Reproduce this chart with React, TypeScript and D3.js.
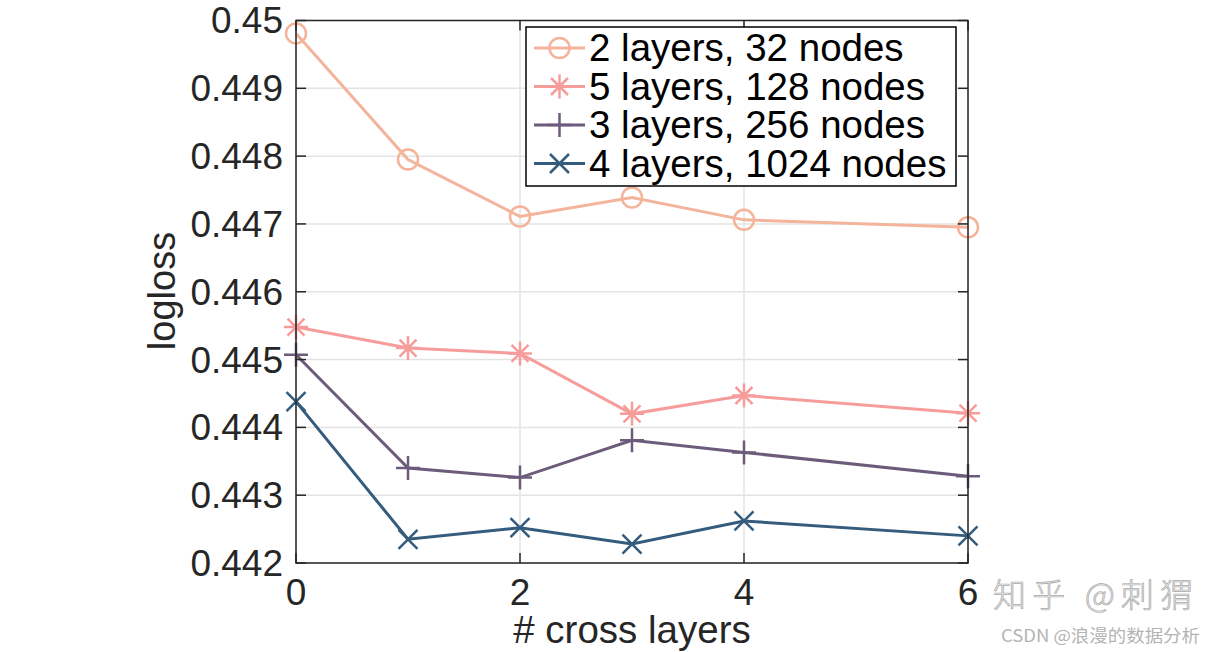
import React from 'react';
import * as d3 from 'd3';

// chart data
const crossLayers = [0, 1, 2, 3, 4, 6];
const seriesNames = [
  '2 layers, 32 nodes',
  '5 layers, 128 nodes',
  '3 layers, 256 nodes',
  '4 layers, 1024 nodes',
];
const loss2x32 = [0.44981, 0.44795, 0.44711, 0.44739, 0.44706, 0.44695];
const loss5x128 = [0.44548, 0.44517, 0.44509, 0.4442, 0.44447, 0.44421];
const loss3x256 = [0.44507, 0.4434, 0.44326, 0.44381, 0.44363, 0.44328];
const loss4x1024 = [0.44438, 0.44235, 0.44252, 0.44228, 0.44262, 0.4424];
const yTicks = [0.442, 0.443, 0.444, 0.445, 0.446, 0.447, 0.448, 0.449, 0.45];
const xTicks = [0, 2, 4, 6];

const seriesValues = [loss2x32, loss5x128, loss3x256, loss4x1024];
const colors = ['#F4B49B', '#F69D9C', '#6C5B7B', '#355C7D'];
const markers = ['circle', 'star', 'plus', 'cross'];

const FONT = '"Liberation Sans", Arial, Helvetica, sans-serif';
const AXIS = '#262626';

const Marker: React.FC<{ type: string; x: number; y: number; color: string }> = ({ type, x, y, color }) => {
  const common = { stroke: color, strokeWidth: 2.5, fill: 'none' };
  if (type === 'circle') return <circle cx={x} cy={y} r={10} {...common} />;
  if (type === 'plus') {
    const s = 12;
    return <path d={`M${x - s},${y}H${x + s}M${x},${y - s}V${y + s}`} {...common} />;
  }
  if (type === 'cross') {
    const c = 9.5;
    return <path d={`M${x - c},${y - c}L${x + c},${y + c}M${x - c},${y + c}L${x + c},${y - c}`} {...common} />;
  }
  // star: plus + cross
  const s = 12;
  const c = 8.5;
  return (
    <path
      d={`M${x - s},${y}H${x + s}M${x},${y - s}V${y + s}M${x - c},${y - c}L${x + c},${y + c}M${x - c},${y + c}L${x + c},${y - c}`}
      {...common}
    />
  );
};

const App: React.FC = () => {
  const width = 1216;
  const height = 652;
  const left = 296;
  const right = 968;
  const top = 20.5;
  const bottom = 563;

  const x = d3.scaleLinear().domain([0, 6]).range([left, right]);
  const y = d3.scaleLinear().domain([0.442, 0.45]).range([bottom, top]);

  const line = d3
    .line<number>()
    .x((_, i) => x(crossLayers[i]))
    .y((d) => y(d));

  const tickLen = 10;
  const legend = { x0: 526, x1: 956, y0: 27, y1: 186, row0: 48, step: 38.5 };

  return (
    <svg
      width={width}
      height={height}
      style={{ position: 'absolute', left: 0, top: 0, background: '#fff' }}
      fontFamily={FONT}
    >
      <rect x={0} y={0} width={width} height={height} fill="#fff" />

      {/* grid */}
      <g stroke="#E3E3E3" strokeWidth={1.5}>
        {yTicks.map((t) => (
          <line key={'gy' + t} x1={left} x2={right} y1={y(t)} y2={y(t)} />
        ))}
        {xTicks.map((t) => (
          <line key={'gx' + t} x1={x(t)} x2={x(t)} y1={top} y2={bottom} />
        ))}
      </g>

      {/* series */}
      {seriesValues.map((vals, si) => (
        <g key={seriesNames[si]}>
          <path d={line(vals) || ''} fill="none" stroke={colors[si]} strokeWidth={3} />
          {vals.map((v, i) => (
            <Marker key={i} type={markers[si]} x={x(crossLayers[i])} y={y(v)} color={colors[si]} />
          ))}
        </g>
      ))}

      {/* axes box and inward ticks */}
      <g stroke={AXIS} strokeWidth={1.5} fill="none">
        <rect x={left} y={top} width={right - left} height={bottom - top} />
        {yTicks.map((t) => (
          <g key={'ty' + t}>
            <line x1={left} x2={left + tickLen} y1={y(t)} y2={y(t)} />
            <line x1={right} x2={right - tickLen} y1={y(t)} y2={y(t)} />
          </g>
        ))}
        {xTicks.map((t) => (
          <g key={'tx' + t}>
            <line x1={x(t)} x2={x(t)} y1={bottom} y2={bottom - tickLen} />
            <line x1={x(t)} x2={x(t)} y1={top} y2={top + tickLen} />
          </g>
        ))}
      </g>

      {/* tick labels */}
      <g fill={AXIS} fontSize={37}>
        {yTicks.map((t) => (
          <text key={'ly' + t} x={left - 13} y={y(t)} dy="0.35em" textAnchor="end">
            {d3.format('')(+t.toFixed(3))}
          </text>
        ))}
        {xTicks.map((t) => (
          <text key={'lx' + t} x={x(t)} y={605} textAnchor="middle">
            {t}
          </text>
        ))}
        <text x={(left + right) / 2} y={643} textAnchor="middle" fontSize={38.5}>
          # cross layers
        </text>
        <text transform={`translate(175,291) rotate(-90)`} textAnchor="middle" fontSize={38}>
          logloss
        </text>
      </g>

      {/* legend */}
      <g>
        <rect
          x={legend.x0}
          y={legend.y0}
          width={legend.x1 - legend.x0}
          height={legend.y1 - legend.y0}
          fill="#fff"
          stroke="#000"
          strokeWidth={1.5}
        />
        {seriesNames.map((name, i) => {
          const ry = legend.row0 + i * legend.step;
          return (
            <g key={'lg' + name}>
              <line x1={534} x2={585} y1={ry} y2={ry} stroke={colors[i]} strokeWidth={3} />
              <Marker type={markers[i]} x={559.5} y={ry} color={colors[i]} />
              <text x={589} y={ry} dy="0.35em" fontSize={38.5} fill="#000">
                {name}
              </text>
            </g>
          );
        })}
      </g>

      {/* watermark */}
      <text x={993} y={607} fontSize={33} fill="#e6e6e6" stroke="#aaaaaa" strokeWidth={0.7}
        fontFamily='"Noto Sans CJK SC", sans-serif' fontWeight={300} textLength={200} lengthAdjust="spacing">
        知乎 @刺猬
      </text>
      <text x={1001} y={642} fontSize={17} fill="#b4b4b4"
        fontFamily='"Noto Sans CJK SC", sans-serif' textLength={199} lengthAdjust="spacingAndGlyphs">
        CSDN @浪漫的数据分析
      </text>
    </svg>
  );
};

export default App;
